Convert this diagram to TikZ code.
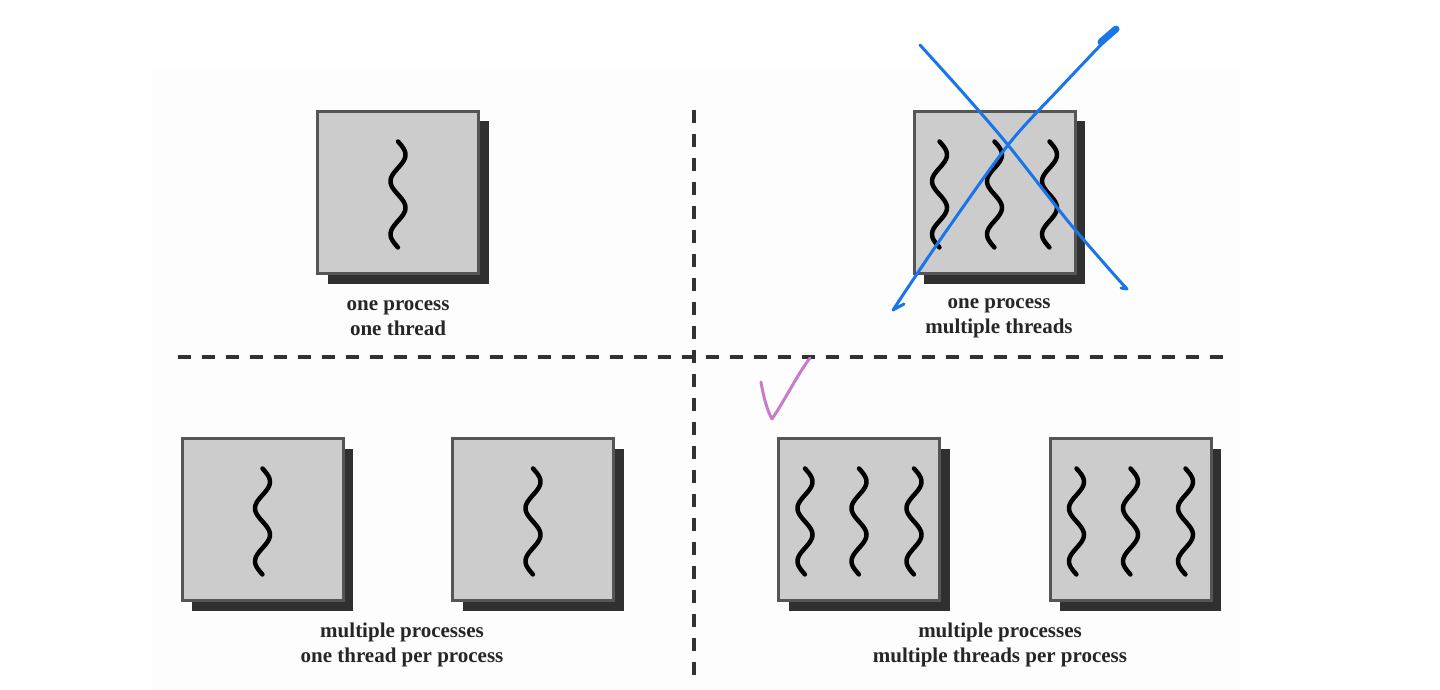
\documentclass[tikz,border=0pt]{standalone}
\usepackage{fontspec}
\setmainfont{Liberation Serif}
\usetikzlibrary{shadows,calc}
\definecolor{boxfill}{RGB}{204,204,204}
\definecolor{boxline}{RGB}{85,85,85}
\definecolor{shadowc}{RGB}{48,48,48}
\definecolor{dashc}{RGB}{50,50,50}
\definecolor{inkblue}{RGB}{25,118,232}
\definecolor{inkpink}{RGB}{200,122,204}
\definecolor{paper}{RGB}{253,253,253}
\begin{document}
\begin{tikzpicture}[x=1pt,y=-1pt,
  proc/.style={draw=boxline, line width=3pt, fill=boxfill, minimum width=161pt, minimum height=162pt, inner sep=0pt,
    general shadow={shadow xshift=10pt, shadow yshift=-10pt, fill=shadowc}},
  wave/.style={line width=4.5pt, line cap=round, line join=round, black},
  sepline/.style={dashc, line width=4pt, dash pattern=on 13pt off 11pt},
  lbl/.style={font=\fontsize{21}{25}\selectfont\bfseries, text=black!85, align=center},
  ink/.style={line width=3pt, line cap=round, line join=round}
]
\useasboundingbox (0,0) rectangle (1440,690);
\fill[paper] (152,68) rectangle (1240,690);

% separators
\coordinate (hL) at (178,357);
\coordinate (hR) at (1224,357);
\coordinate (vT) at (694,110);
\coordinate (vB) at (694,677);
\draw[sepline] (hL) -- (hR);
\draw[sepline] (vT) -- (vB);

% process boxes
\node[proc] (p1) at (398,192.5) {};
\node[proc] (p2) at (994.5,192.5) {};
\node[proc] (p3) at (262.5,519.5) {};
\node[proc] (p4) at (533,519.5) {};
\node[proc] (p5) at (859,519.5) {};
\node[proc] (p6) at (1130.5,519.5) {};

% threads
\foreach \b/\dx in {p1/0, p2/-55, p2/0, p2/55, p3/0, p4/0, p5/-54, p5/0, p5/55, p6/-54, p6/0, p6/55}{
  \draw[wave, shift={(\b.center)}] plot[domain=0:1, samples=60, variable=\t] ({\dx+7.5*sin(720*\t)},{-51+106*\t});
}

% labels
\node[lbl] (l1) at (398,318) {one process\\one thread};
\node[lbl] (l2) at (999,318) {one process\\multiple threads};
\node[lbl] (l3) at (402,645) {multiple processes\\one thread per process};
\node[lbl] (l4) at (1000,645) {multiple processes\\multiple threads per process};

% hand-drawn blue cross
\draw[ink, inkblue] plot[smooth] coordinates {(920,45) (965,95) (1008,145) (1067,220) (1110,270) (1127,289)} -- (1121,288);
\draw[ink, inkblue, line width=7pt] (1101,42) -- (1116,29);
\draw[ink, inkblue] plot[smooth] coordinates {(1116,29) (1060,88) (1008,145) (940,240) (893,310)} -- (904,304);

% hand-drawn pink check
\draw[ink, inkpink] (761,382) .. controls (764,400) and (768,412) .. (772,419) .. controls (785,400) and (797,375) .. (810,358);
\end{tikzpicture}
\end{document}
